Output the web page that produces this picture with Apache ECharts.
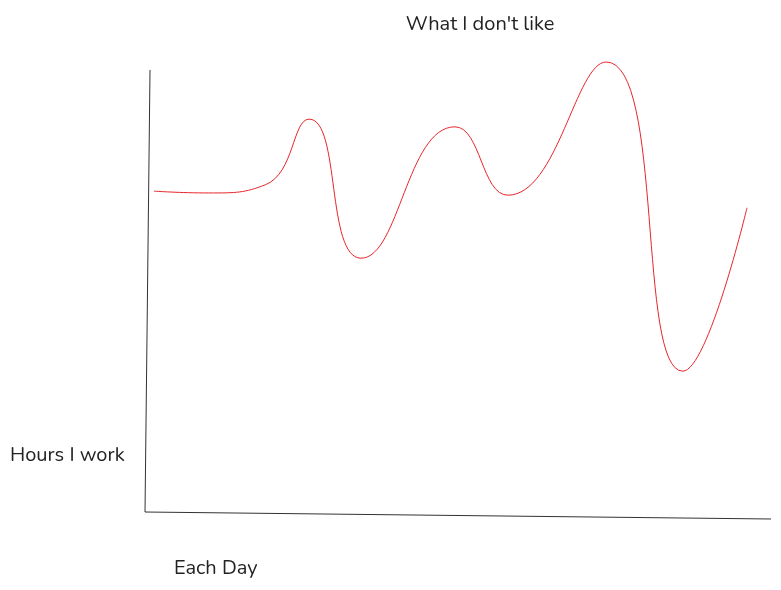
<!DOCTYPE html>
<html><head><meta charset="utf-8">
<script src="https://cdn.jsdelivr.net/npm/echarts@6/dist/echarts.min.js"></script>
<style>html,body{margin:0;padding:0;background:#fff}#c{width:781px;height:590px}</style>
</head><body><div id="c"></div>
<script>
const titleText = "What I don't like";
const yLabel = "Hours I work";
const xLabel = "Each Day";
const days = [0, 1.1, 2.25, 3.14, 4.19, 6.09, 7.16, 9.15, 10.7, 12];
const hours = [7.13, 7.09, 7.27, 8.73, 5.64, 8.56, 7.04, 10.0, 3.13, 6.76];

const chart = echarts.init(document.getElementById('c'), null, {renderer: 'canvas'});
const font = "Nunito, 'Noto Sans', sans-serif";
chart.setOption({
  animation: false,
  backgroundColor: '#fff',
  title: {text: titleText, left: 475, top: 10, textAlign: 'center',
    textStyle: {fontFamily: font, fontWeight: 'normal', fontSize: 20, color: '#222'}},
  grid: {left: 154, right: 34, top: 62, bottom: 78},
  xAxis: {type: 'value', min: 0, max: 12, show: false},
  yAxis: {type: 'value', min: 0, max: 10, show: false},
  graphic: [
    {type: 'line', shape: {x1: 150, y1: 70, x2: 145, y2: 512}, style: {stroke: '#333', lineWidth: 1}},
    {type: 'line', shape: {x1: 145, y1: 512, x2: 771, y2: 519}, style: {stroke: '#333', lineWidth: 1}},
    {type: 'text', left: 10, top: 446, style: {text: yLabel, font: "20px " + font, fill: '#222'}},
    {type: 'text', left: 174, top: 559, style: {text: xLabel, font: "20px " + font, fill: '#222'}}
  ],
  series: [{
    type: 'line', data: days.map((d, i) => [d, hours[i]]),
    smooth: 0.5, showSymbol: false, clip: false,
    lineStyle: {color: '#e8262b', width: 1}
  }]
});
</script></body></html>
